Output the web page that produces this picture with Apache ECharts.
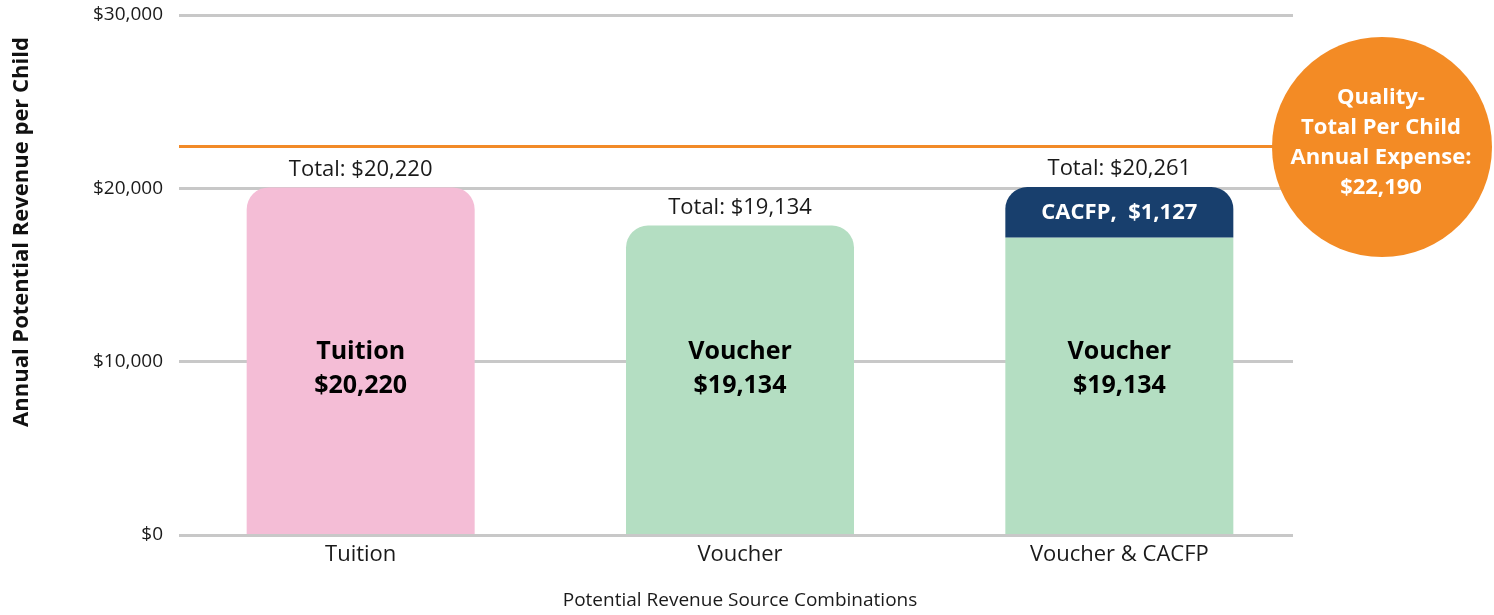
<!DOCTYPE html>
<html>
<head>
<meta charset="utf-8">
<script src="https://cdn.jsdelivr.net/npm/echarts@6/dist/echarts.min.js"></script>
<style>
  html, body { margin: 0; padding: 0; background: #fff; }
  #chart { width: 1494px; height: 615px; }
</style>
</head>
<body>
<div id="chart"></div>
<script>
// ---- data ----
const categories = ['Tuition', 'Voucher', 'Voucher & CACFP'];
const yTicks = [0, 10000, 20000, 30000];
// bar heights as drawn in the reference
const baseHeights = [20036, 17827, 17135];
const cacfpHeights = [0, 0, 2923];
const expenseLineValue = 22402;
// text labels printed in the reference
const baseNames = ['Tuition', 'Voucher', 'Voucher'];
const baseValueLabels = ['$20,220', '$19,134', '$19,134'];
const totalLabels = ['$20,220', '$19,134', '$20,261'];
const cacfpLabel = 'CACFP,  $1,127';
const expenseLabelLines = ['Quality-', 'Total Per Child', 'Annual Expense:', '$22,190'];
const yAxisTitle = 'Annual Potential Revenue per Child';
const xAxisTitle = 'Potential Revenue Source Combinations';

const baseColors = ['#F4BDD6', '#B4DEC2', '#B4DEC2'];
const FONT = '"Open Sans", "Noto Sans", sans-serif';

const chart = echarts.init(document.getElementById('chart'));

const fmtMoney = v => '$' + v.toLocaleString('en-US');

const option = {
  backgroundColor: '#ffffff',
  animation: false,
  textStyle: { fontFamily: FONT },
  grid: [
    { left: 179, right: 201, top: 15, bottom: 80 },
    { left: 171, right: 185, top: 15, bottom: 80 }
  ],
  xAxis: [
    { gridIndex: 0, type: 'category', data: categories, show: false },
    {
      gridIndex: 1, type: 'category', data: categories,
      axisLine: { show: false }, axisTick: { show: false },
      axisLabel: { color: '#1a1a1a', fontSize: 22, margin: 10, fontFamily: FONT },
      name: xAxisTitle, nameLocation: 'middle', nameGap: 57,
      nameTextStyle: { color: '#1a1a1a', fontSize: 19, fontFamily: FONT }
    }
  ],
  yAxis: [
    {
      gridIndex: 0, type: 'value', min: yTicks[0], max: yTicks[yTicks.length - 1], interval: 10000,
      axisLine: { show: false }, axisTick: { show: false },
      axisLabel: { color: '#1a1a1a', fontSize: 19, margin: 16, fontFamily: FONT, formatter: fmtMoney },
      splitLine: { lineStyle: { color: '#C8C8C8', width: 3 } }
    },
    {
      gridIndex: 1, type: 'value', min: yTicks[0], max: yTicks[yTicks.length - 1], interval: 10000,
      show: false, splitLine: { show: false }
    }
  ],
  series: [
    {
      name: 'Base', type: 'bar', xAxisIndex: 1, yAxisIndex: 1, stack: 'rev', barWidth: 228,
      data: baseHeights.map((v, i) => ({
        value: v,
        itemStyle: { color: baseColors[i], borderRadius: cacfpHeights[i] > 0 ? 0 : [22, 22, 0, 0] }
      })),
      label: {
        show: true, position: 'insideBottom', distance: 131,
        color: '#000', fontSize: 25, fontWeight: 'bold', lineHeight: 34, fontFamily: FONT,
        formatter: p => baseNames[p.dataIndex] + '\n' + baseValueLabels[p.dataIndex]
      }
    },
    {
      name: 'CACFP', type: 'bar', xAxisIndex: 1, yAxisIndex: 1, stack: 'rev', barWidth: 228,
      data: cacfpHeights.map(v => ({
        value: v,
        itemStyle: { color: '#183F6D', borderRadius: [22, 22, 0, 0] },
        label: { show: v > 0 }
      })),
      label: {
        position: 'inside', color: '#fff', fontSize: 22, fontWeight: 'bold', fontFamily: FONT,
        formatter: () => cacfpLabel
      }
    },
    {
      name: 'Total', type: 'bar', xAxisIndex: 1, yAxisIndex: 1, stack: 'rev', barWidth: 228,
      data: categories.map(() => 0),
      itemStyle: { color: 'rgba(0,0,0,0)' },
      label: {
        show: true, position: 'top', distance: 7, color: '#1a1a1a', fontSize: 22, fontFamily: FONT,
        formatter: p => 'Total: ' + totalLabels[p.dataIndex]
      }
    },
    {
      name: 'Expense', type: 'line', xAxisIndex: 0, yAxisIndex: 0, data: [],
      markLine: {
        silent: true, symbol: 'none', animation: false,
        label: { show: false },
        lineStyle: { color: '#F28A28', width: 3, type: 'solid' },
        data: [{ yAxis: expenseLineValue }]
      }
    }
  ],
  graphic: [
    {
      type: 'circle', shape: { cx: 1382, cy: 147, r: 110 },
      style: { fill: '#F38B25' }, z: 100
    },
    {
      type: 'text', x: 1381, y: 143, z: 101,
      style: {
        text: expenseLabelLines.join('\n'),
        fill: '#fff', font: 'bold 22px ' + FONT, lineHeight: 30,
        align: 'center', verticalAlign: 'middle'
      }
    },
    {
      type: 'text', x: 22, y: 232, rotation: Math.PI / 2, z: 10,
      style: {
        text: yAxisTitle, fill: '#111', font: 'bold 22px ' + FONT,
        align: 'center', verticalAlign: 'middle'
      }
    }
  ]
};

chart.setOption(option);
</script>
</body>
</html>
